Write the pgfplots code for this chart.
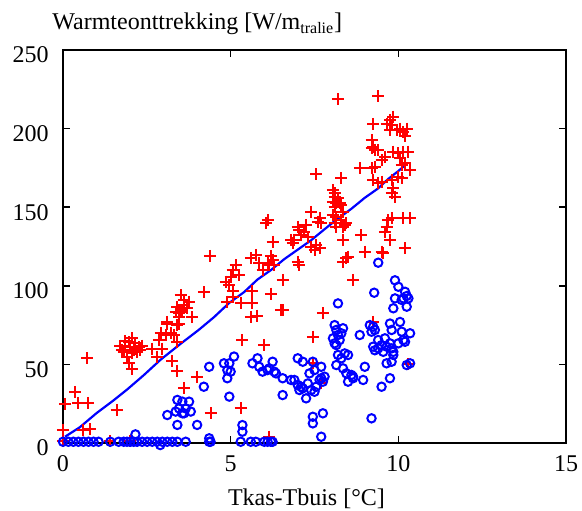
\documentclass[border=0pt]{standalone}
\usepackage{fontspec}
\setmainfont{Liberation Serif}
\usepackage{pgfplots}
\pgfplotsset{compat=1.18}
\usepackage{pgfplotstable}
\pgfplotstableread{
x y
0.06 24.8
0.36 32.5
0.46 25.5
0.75 25.5
0.72 54
0.6 8.5
0.8 8.7
0.0 8.3
0.0 1
1.6 21
1.4 1
2.0 1
1.76 59
1.86 62
1.96 64
2.06 66.6
2.16 63.4
2.26 61
2.36 62
1.81 58
2.01 61
2.11 59
2.21 58
1.96 50.7
2.06 47
1.71 62
2.31 59
1.91 55
2.16 60
2.66 60
1.86 65
2.06 57
2.81 55
2.86 65.5
2.96 60
2.91 70
3.11 76
3.06 68.7
3.21 70
3.41 64
3.31 68.7
3.26 52
3.41 46
3.61 35
4.0 42
4.4 19
3.51 94
3.41 86.7
3.51 84.6
3.61 87.8
3.46 82.5
3.56 83.5
3.71 85.7
3.36 83.5
3.6 91
3.76 90
3.86 80
3.46 76
3.46 80.3
3.1 77
3.4 75
4.2 96
4.86 102.6
4.96 100.5
4.9 90
5.06 93
4.38 119
5.0 105.8
5.06 110
5.15 113
5.25 107
5.06 97
5.3 88.9
5.65 88.9
5.6 80.3
5.8 81
5.65 97
5.6 117.5
5.75 119.6
5.85 114.3
5.95 110
6.15 113
6.25 116.4
6.3 113
6.1 114.3
6.2 119
6.05 139.7
6.1 141.8
6.25 128
6.55 103.7
6.2 95
6.55 84.6
6.8 129
6.85 127
7.05 135.5
7.2 134.4
7.25 138.7
7.1 132.3
7.3 131
7.0 137.6
6.9 129
7.0 115.3
7.05 113
7.4 147
7.4 125
7.5 122.8
7.65 123.8
7.55 126
7.6 140.8
7.7 139.7
7.65 143
7.75 82.5
7.55 171
8.1 158.8
8.2 218.6
9.4 220.7
9.25 203
9.65 203
9.75 205.5
9.85 207.6
9.8 202
9.75 199
9.95 199
10.05 200
10.15 198
10.2 195
10.25 200
9.2 192.7
9.25 188.5
9.3 186.4
9.2 187.5
9.4 186.4
9.85 185.3
10.0 184.3
10.15 185.3
10.3 185.3
9.6 182
9.5 180
9.3 175.8
9.2 174.7
10.05 181
10.1 176.8
10.35 173.7
10.2 178
8.85 174.7
8.3 168.4
9.25 167.3
9.4 165.2
9.5 166.2
9.8 167.3
9.85 162
9.8 158.8
9.9 156.7
10.0 169.4
10.1 168.4
8.05 161
8.1 156.7
8.2 155.6
8.15 152.5
8.05 153.5
8.25 152.5
8.3 151.4
8.1 150.3
8.35 147.1
8.05 145
8.15 144
8.3 141.8
8.45 139.7
8.15 137.6
8.35 137.6
8.1 139.7
8.4 138.7
8.35 129
8.9 132.3
9.0 121.7
9.5 121.7
8.5 118.5
9.7 141.8
9.8 143
9.65 137.6
9.6 134.4
9.75 129
10.15 143
10.35 143
10.2 123.8
9.55 120.6
8.35 115.3
8.45 117.5
8.65 103.7
5.35 65.5
6.0 62.3
7.45 67.6
9.25 77
7.45 50.7
7.7 38
5.3 22
6.15 4
6.5 84.6
10.3 50
}\redpts
\pgfplotstableread{
x y
0.0 0.8
0.16 0.8
0.31 0.8
0.46 0.8
0.61 0.8
0.76 0.8
0.91 0.8
1.06 0.8
1.41 0.8
1.66 0.8
1.81 0.8
1.91 0.8
2.01 0.8
2.11 0.8
2.21 0.8
2.36 0.8
2.51 0.8
2.66 0.8
2.81 0.8
2.96 0.8
3.11 0.8
3.26 0.8
3.41 0.8
3.66 0.8
4.36 0.8
4.4 0.8
5.3 0.8
5.6 0.8
5.75 0.8
6.0 0.8
6.1 0.8
6.2 0.8
6.25 0.8
2.16 5.5
2.9 -1.3
4.36 3
3.41 27.4
3.56 26.3
3.76 26.3
3.46 22
3.66 22
3.36 20
3.56 18.9
3.81 20
3.11 17.8
3.61 18.9
3.41 11.5
4.0 11.5
4.2 35.8
4.36 48.5
4.8 50.7
4.9 46.4
4.9 41.2
4.96 29.5
4.96 50.7
5.0 45.4
5.1 55
5.35 11.4
5.35 7.2
5.65 50.7
5.8 53.9
5.85 48.5
5.95 45.4
6.15 47.5
6.25 51.7
6.3 45.4
6.35 44.3
6.1 46.4
6.55 41.2
6.8 40.1
6.9 40.1
7.0 36.9
7.1 35.8
7.15 34.8
7.05 33.7
7.3 37.9
7.35 44.3
7.5 46.4
7.55 35.8
7.4 33.7
7.5 32.6
7.65 40.1
7.7 41.2
7.75 39
7.8 42.2
7.7 48.5
7.25 28.4
6.55 30.5
7.0 53.9
7.15 51.7
7.45 51.7
7.45 16.7
7.45 12.5
7.75 18.9
7.7 4
8.1 75
8.15 71.9
8.2 68.7
8.05 66.6
8.1 63.4
8.3 69.8
8.25 65.5
8.15 62.3
8.35 73
8.2 56
8.3 53.9
8.4 57
8.5 56
8.35 47.5
8.45 44.3
8.6 43.3
8.65 42.2
8.5 39
8.65 41.2
8.15 49.6
8.85 68.7
9.0 48.5
8.95 40.1
9.2 15.7
9.5 35.8
9.75 41.2
9.65 50.7
9.8 51.7
9.85 56
9.15 75
9.2 70.8
9.3 71.9
9.25 74
9.75 76
9.8 71.9
9.25 61.3
9.3 59
9.4 60.2
9.5 62.3
9.55 58
9.65 61.3
9.75 63.4
9.8 60.2
9.85 58
9.4 114.7
9.28 95.6
9.9 103.5
10.0 99.4
10.2 96.2
10.25 93.5
10.15 92
10.3 92
10.25 86.7
9.85 85.7
9.9 92
10.05 77
10.1 70.8
10.35 69.8
9.6 66.6
9.4 65.5
10.0 63.4
10.15 65.5
10.2 64.4
10.25 49.6
10.35 50.7
8.2 88.8
10.1 91
}\bluepts
\begin{document}
\fontsize{12}{14.4}\selectfont
\begin{tikzpicture}
\useasboundingbox (-31.5pt,-33.5pt) rectangle (259.5pt,221.5pt);
\begin{axis}[
  at={(0,0)}, anchor=south west,
  scale only axis, width=251.5pt, height=196.5pt,
  xmin=0, xmax=15, ymin=0, ymax=250,
  xtick={0,5,10,15}, ytick={0,50,...,250},
  tick align=inside, tick pos=both, major tick length=3.5pt,
  axis line style={line width=1pt},
  every tick/.style={black, line width=0.8pt},
  clip=false,
  /pgf/number format/assume math mode=true,
  xticklabel style={anchor=base, yshift=-14pt, inner sep=0pt},
  yticklabel style={anchor=east, xshift=-7pt, yshift=-2.5pt, inner sep=0pt},
  title={Warmteonttrekking [W/m\textsubscript{tralie}]},
  title style={at={(axis description cs:-0.0219,1.0204)}, anchor=base west, inner sep=0pt},
  xlabel={Tkas-Tbuis [°C]},
  xlabel style={at={(axis description cs:0.484,-0.158)}, anchor=base, inner sep=0pt},
]
\addplot[only marks, mark=+, mark size=3pt, color=red, line width=1pt] table[x=x,y=y] {\redpts};
\addplot[only marks, mark=o, mark size=2.1pt, color=blue, line width=1pt] table[x=x,y=y] {\bluepts};
\addplot[blue, line width=1.1pt, no markers] coordinates {
(0.06,4) (0.5,10) (1.0,19) (1.5,27) (1.91,34) (2.4,43) (2.91,53) (3.5,63) (4.05,72) (4.5,80) (4.95,89) (5.4,96) (5.8,104) (6.2,110) (6.6,117) (7.0,123) (7.4,129) (7.8,136) (8.15,142) (8.6,149) (9.0,156) (9.4,162) (9.7,168) (10.0,173) (10.27,178)
};
\end{axis}
\end{tikzpicture}
\end{document}
